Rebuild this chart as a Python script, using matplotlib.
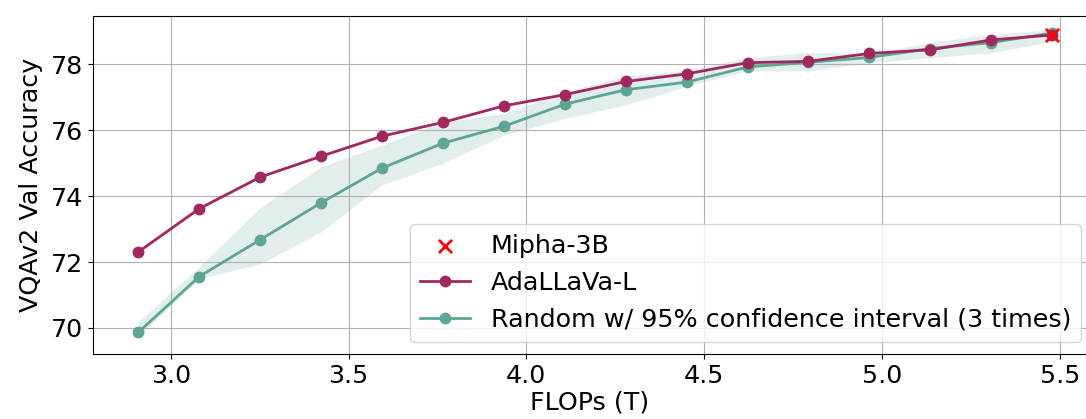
import numpy as np
import matplotlib
matplotlib.use("Agg")
import matplotlib.pyplot as plt

# data
flops = [2.909, 3.080, 3.252, 3.423, 3.594, 3.766, 3.937, 4.108,
         4.280, 4.451, 4.622, 4.793, 4.965, 5.136, 5.307, 5.479]
ada_acc = [72.31, 73.62, 74.58, 75.21, 75.82, 76.24, 76.74, 77.08,
           77.48, 77.71, 78.05, 78.09, 78.33, 78.44, 78.74, 78.89]
rand_acc = [69.87, 71.56, 72.68, 73.80, 74.85, 75.61, 76.12, 76.79,
            77.23, 77.46, 77.92, 78.06, 78.21, 78.48, 78.66, 78.95]
rand_upper = [70.19, 71.86, 73.66, 74.89, 75.55, 76.25, 76.51, 77.18,
              77.64, 77.82, 78.20, 78.36, 78.33, 78.66, 78.91, 79.06]
rand_lower = [69.75, 71.50, 71.94, 72.92, 74.34, 75.00, 75.85, 76.36,
              76.77, 77.33, 77.80, 77.80, 78.05, 78.20, 78.35, 78.70]
mipha_flops = 5.479
mipha_acc = 78.9

ada_color = "#a0285f"
rand_color = "#5fa595"
fs = 18.25

fig = plt.figure(figsize=(10.86, 4.19), dpi=100)
ax = fig.add_axes([0.0856, 0.1544, 0.9144, 0.8069])

ax.fill_between(flops, rand_lower, rand_upper, color=rand_color, alpha=0.18, linewidth=0)
ax.scatter([mipha_flops], [mipha_acc], marker="x", color="red", s=90, linewidths=2,
           zorder=5, label="Mipha-3B")
ax.plot(flops, ada_acc, "-o", color=ada_color, lw=2, ms=7.5, label="AdaLLaVa-L", zorder=4)
ax.plot(flops, rand_acc, "-o", color=rand_color, lw=2, ms=7.5,
        label="Random w/ 95% confidence interval (3 times)", zorder=3)

ax.set_xlim(2.781, 5.574)
ax.set_ylim(69.2, 79.46)
ax.set_xticks([3.0, 3.5, 4.0, 4.5, 5.0, 5.5])
ax.set_yticks([70, 72, 74, 76, 78])
ax.tick_params(labelsize=fs)
ax.set_xlabel("FLOPs (T)", fontsize=fs, labelpad=2)
ax.set_ylabel("VQAv2 Val Accuracy", fontsize=fs, labelpad=6)
ax.grid(True)
ax.spines["right"].set_visible(False)

ax.legend(loc="lower right", bbox_to_anchor=(1.008, 0.0), fontsize=fs)

fig.savefig("out.png", dpi=100)
